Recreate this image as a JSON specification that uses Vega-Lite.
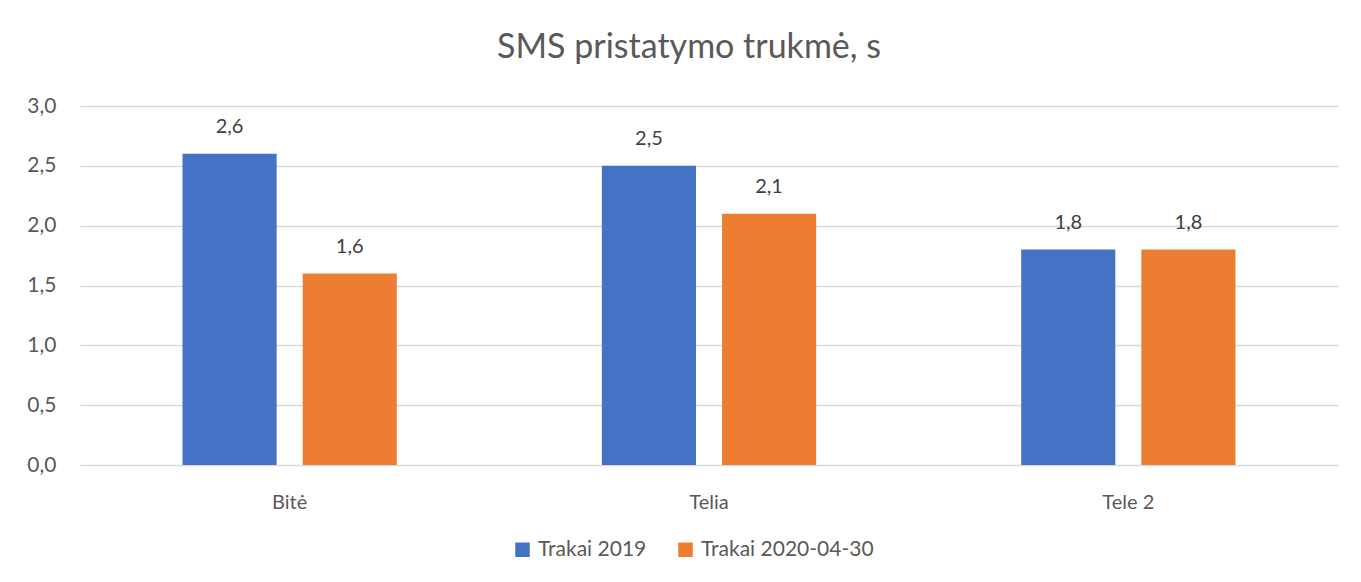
{
  "$schema": "https://vega.github.io/schema/vega-lite/v6.json",
  "autosize": "none",
  "width": 1258,
  "height": 359,
  "padding": {"left": 80, "top": 106, "right": 23, "bottom": 117},
  "background": "white",
  "config": {
    "font": "Lato",
    "view": {"stroke": null},
    "locale": {"number": {"decimal": ",", "thousands": " ", "grouping": [3], "currency": ["", " €"]}}
  },
  "title": {
    "text": "SMS pristatymo trukmė, s",
    "fontSize": 34,
    "fontWeight": "normal",
    "color": "#595959",
    "font": "Lato",
    "anchor": "middle",
    "dx": -20,
    "offset": 30
  },
  "data": {
    "values": [
      {"operator": "Bitė", "series": "Trakai 2019", "value": 2.6},
      {"operator": "Bitė", "series": "Trakai 2020-04-30", "value": 1.6},
      {"operator": "Telia", "series": "Trakai 2019", "value": 2.5},
      {"operator": "Telia", "series": "Trakai 2020-04-30", "value": 2.1},
      {"operator": "Tele 2", "series": "Trakai 2019", "value": 1.8},
      {"operator": "Tele 2", "series": "Trakai 2020-04-30", "value": 1.8}
    ]
  },
  "encoding": {
    "x": {
      "field": "operator",
      "type": "nominal",
      "sort": ["Bitė", "Telia", "Tele 2"],
      "scale": {"paddingInner": 0.489, "paddingOuter": 0.2445},
      "axis": {
        "title": null,
        "labelAngle": 0,
        "labelFontSize": 20,
        "labelColor": "#595959",
        "labelPadding": 27,
        "ticks": false,
        "domain": false
      }
    },
    "xOffset": {
      "field": "series",
      "type": "nominal",
      "scale": {"paddingInner": 0.2167, "paddingOuter": 0}
    },
    "y": {
      "field": "value",
      "type": "quantitative",
      "scale": {"domain": [0, 3]},
      "axis": {
        "title": null,
        "values": [0, 0.5, 1, 1.5, 2, 2.5, 3],
        "format": ".1f",
        "labelFontSize": 21,
        "labelColor": "#595959",
        "labelPadding": 24,
        "ticks": false,
        "domain": false,
        "gridColor": "#D9D9D9",
        "gridWidth": 1.5
      }
    }
  },
  "layer": [
    {
      "mark": {"type": "bar"},
      "encoding": {
        "color": {
          "field": "series",
          "type": "nominal",
          "scale": {"domain": ["Trakai 2019", "Trakai 2020-04-30"], "range": ["#4472C4", "#ED7D31"]},
          "legend": {
            "title": null,
            "orient": "none",
            "legendX": 432,
            "legendY": 433,
            "direction": "horizontal",
            "symbolType": "square",
            "symbolSize": 210,
            "symbolStrokeWidth": 0,
            "labelFontSize": 21,
            "labelLimit": 400,
            "labelColor": "#595959",
            "columnPadding": 28,
            "labelOffset": 5
          }
        }
      }
    },
    {
      "mark": {"type": "text", "dy": -27, "fontSize": 20, "color": "#404040"},
      "encoding": {
        "text": {"field": "value", "type": "quantitative", "format": ".1f"}
      }
    }
  ]
}
